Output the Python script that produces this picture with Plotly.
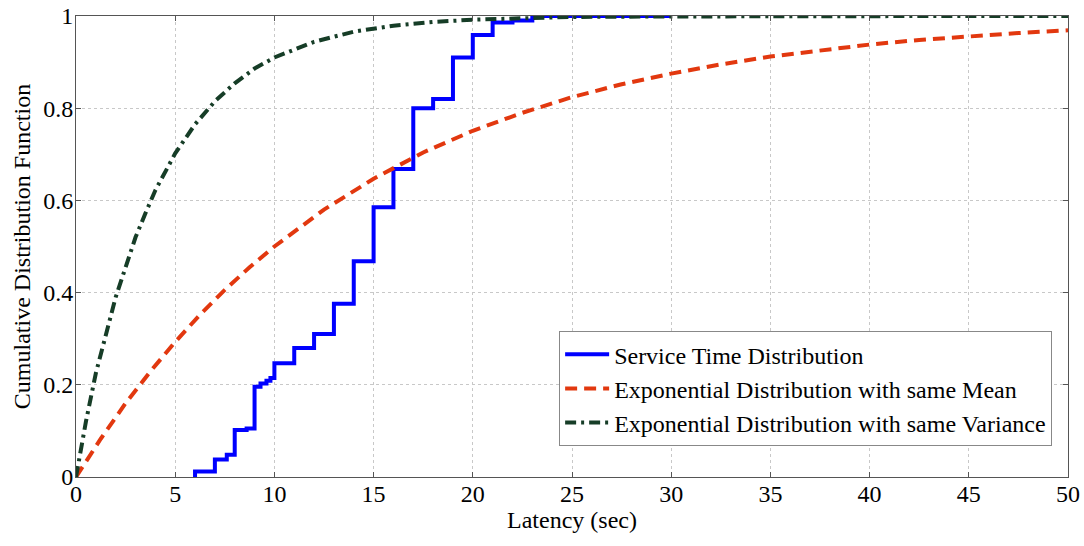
import plotly.graph_objects as go

service_x = [6, 7, 7.6, 8, 8.6, 9, 9.3, 9.6, 9.8, 10, 11, 12, 13, 14, 15, 16, 17, 18, 19, 20, 21, 22, 23, 30]
service_y = [0.012, 0.038, 0.048, 0.102, 0.105, 0.196, 0.203, 0.209, 0.215, 0.247, 0.280, 0.310, 0.376, 0.468, 0.585,
             0.668, 0.800, 0.820, 0.910, 0.959, 0.986, 0.990, 1.0, 1.0]

# Exponential distribution with same mean
mean_x = [0, 1.25, 2.5, 3.75, 5, 6.25, 7.5, 8.75, 10, 12.5, 15, 17.5, 20, 22.5, 25, 27.5, 30, 32.5, 35, 37.5,
          40, 42.5, 45, 47.5, 50]
mean_y = [0, 0.083, 0.160, 0.229, 0.293, 0.352, 0.406, 0.455, 0.500, 0.580, 0.647, 0.704, 0.751, 0.790, 0.824,
          0.852, 0.875, 0.895, 0.912, 0.926, 0.938, 0.948, 0.956, 0.963, 0.969]

# Exponential distribution with same variance
var_x = [0, 0.5, 1, 1.5, 2, 2.5, 3, 3.5, 4, 5, 6, 7, 8, 9, 10, 12, 14, 16, 18, 20, 22, 25, 30, 35, 40, 45, 50]
var_y = [0, 0.120, 0.225, 0.305, 0.390, 0.455, 0.520, 0.572, 0.622, 0.702, 0.765, 0.815, 0.854, 0.886, 0.910,
         0.944, 0.966, 0.979, 0.987, 0.992, 0.995, 0.998, 0.999, 1.0, 1.0, 1.0, 1.0]

x_ticks = [0, 5, 10, 15, 20, 25, 30, 35, 40, 45, 50]
y_ticks = [0, 0.2, 0.4, 0.6, 0.8, 1]
y_tick_text = ["0", "0.2", "0.4", "0.6", "0.8", "1"]

font_family = "Liberation Serif, Times New Roman, serif"
FS = 24

fig = go.Figure()
fig.add_trace(go.Scatter(
    x=[service_x[0]] + service_x, y=[0] + service_y,
    mode="lines", line=dict(color="#0000FF", width=4, shape="hv"),
    name="Service Time Distribution"))
fig.add_trace(go.Scatter(
    x=mean_x, y=mean_y, mode="lines",
    line=dict(color="#E2380F", width=4, dash="12px,7px", shape="linear"),
    name="Exponential Distribution with same Mean"))
fig.add_trace(go.Scatter(
    x=var_x, y=var_y, mode="lines",
    line=dict(color="#163D27", width=4, dash="11px,5px,3px,5px", shape="linear"),
    name="Exponential Distribution with same Variance"))

axis_common = dict(
    showline=True, linecolor="#555555", linewidth=1, mirror="ticks",
    ticks="inside", ticklen=5, tickcolor="#555555",
    showgrid=True, gridcolor="#C8C8C8", griddash="3px,3px", gridwidth=1,
    zeroline=False, automargin=False, ticklabeloverflow="allow",
    tickfont=dict(family=font_family, size=FS, color="#000000"),
)

fig.update_layout(
    width=1084, height=546,
    margin=dict(l=76, r=16, t=16, b=69),
    paper_bgcolor="white", plot_bgcolor="white",
    font=dict(family=font_family, color="#000000"),
    xaxis=dict(range=[0, 50], tickvals=x_ticks, ticktext=[str(v) for v in x_ticks],
               ticklabelstandoff=-5,
               title=dict(text="Latency (sec)", font=dict(family=font_family, size=FS), standoff=2),
               **axis_common),
    yaxis=dict(range=[0, 1], tickvals=y_ticks, ticktext=y_tick_text,
               ticklabelstandoff=-3,
               title=dict(text="Cumulative Distribution Function", font=dict(family=font_family, size=FS), standoff=5),
               **axis_common),
    legend=dict(x=0.984, y=0.067, xanchor="right", yanchor="bottom",
                bgcolor="white", bordercolor="#888888", borderwidth=1,
                font=dict(family=font_family, size=FS, color="#000000"),
                itemwidth=44, tracegroupgap=0),
    showlegend=True,
)

fig.write_html(
    "out.html",
    config={"displayModeBar": False},
    post_script="document.body.style.margin='0';document.body.style.overflow='hidden';",
)
